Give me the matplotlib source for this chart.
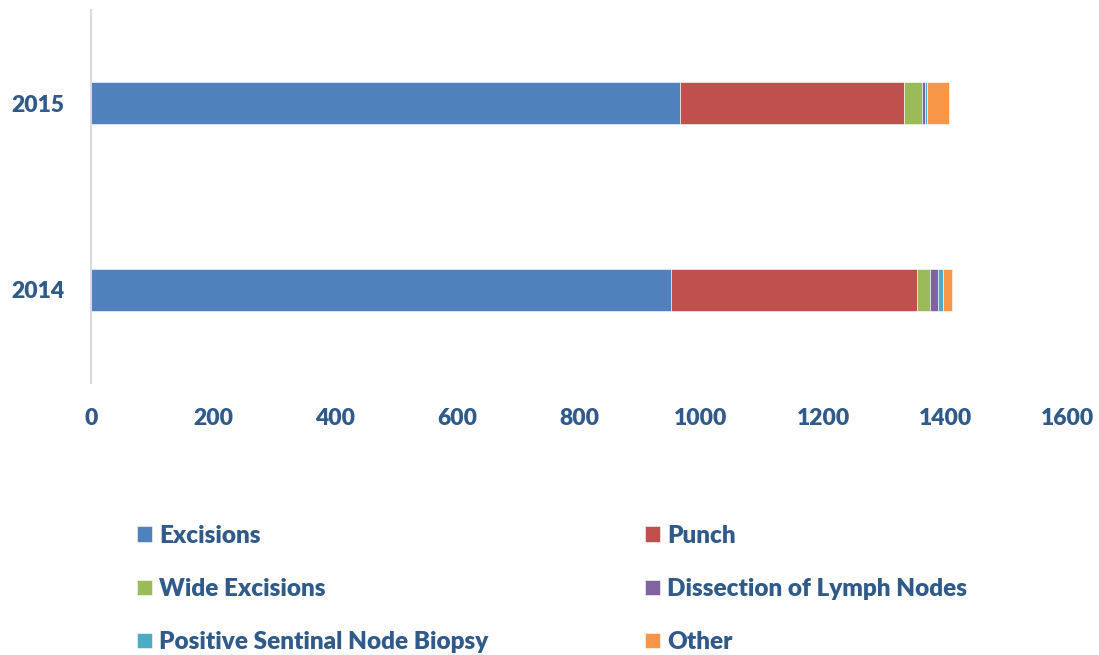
import matplotlib.pyplot as plt
import numpy as np

plt.rcParams['font.family'] = ['Lato', 'DejaVu Sans']

# data
years = ["2014", "2015"]
categories = ["Excisions", "Punch", "Wide Excisions", "Dissection of Lymph Nodes",
              "Positive Sentinal Node Biopsy", "Other"]
excisions = [951, 965]
punch = [403, 367]
wide_excisions = [21, 30]
dissection = [14, 5]
positive_snb = [7, 4]
other = [16, 36]
xticks = [0, 200, 400, 600, 800, 1000, 1200, 1400, 1600]

series = [excisions, punch, wide_excisions, dissection, positive_snb, other]
colors = ["#4F81BD", "#C0504D", "#9BBB59", "#8064A2", "#4BACC6", "#F79646"]
text_color = "#2F5A8A"

fig = plt.figure(figsize=(10.99, 6.55), dpi=100)
ax = fig.add_axes([91 / 1099, 1 - 383 / 655, (1067 - 91) / 1099, (383 - 10) / 655])

y = np.arange(len(years))
left = np.zeros(len(years))
bars = []
for vals, name, col in zip(series, categories, colors):
    b = ax.barh(y, vals, left=left, height=0.225, color=col, label=name,
                edgecolor="white", linewidth=0.4)
    bars.append(b)
    left += np.array(vals)

ax.set_xlim(0, 1600)
ax.set_ylim(-0.5, 1.5)
ax.set_xticks(xticks)
ax.set_yticks(y)
ax.set_yticklabels(years)
ax.tick_params(length=0, labelsize=16.5, labelcolor=text_color)
ax.tick_params(axis="x", pad=18)
ax.tick_params(axis="y", pad=19)
for lbl in ax.get_xticklabels() + ax.get_yticklabels():
    lbl.set_fontweight("heavy")

for s in ["top", "right", "bottom"]:
    ax.spines[s].set_visible(False)
ax.spines["left"].set_color("#D9D9D9")
ax.spines["left"].set_linewidth(1.5)

# legend fills row by row, matplotlib fills column by column
order = [0, 2, 4, 1, 3, 5]
leg = fig.legend([bars[i] for i in order], [categories[i] for i in order],
                 loc="upper left", bbox_to_anchor=(115 / 1099, 1 - 503 / 655), ncol=2,
                 frameon=False, handlelength=0.62, handleheight=0.62, handletextpad=0.3,
                 columnspacing=6.42, labelspacing=1.28,
                 prop={"size": 17.5, "weight": "heavy"})
for t in leg.get_texts():
    t.set_color(text_color)

fig.savefig("out.png", dpi=100)
